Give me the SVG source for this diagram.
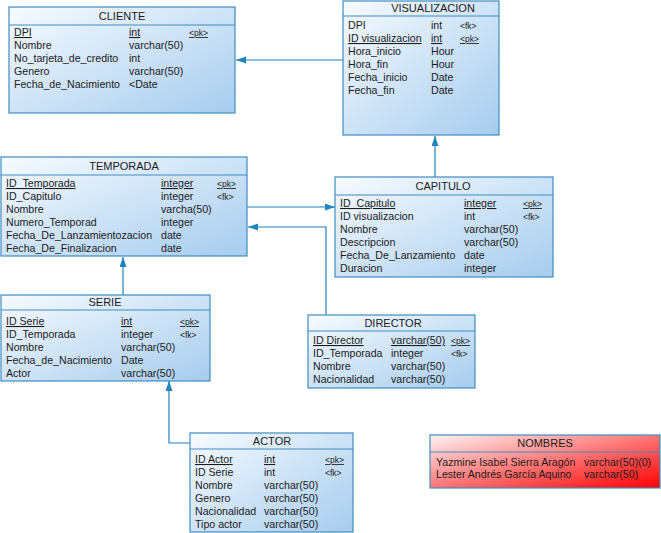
<svg xmlns="http://www.w3.org/2000/svg" width="661" height="533" viewBox="0 0 661 533">
  <style>
    .tbl { stroke: #3f8cc2; stroke-width: 1.2; fill: url(#blueFill); }
    .red { stroke: #3f8cc2; stroke-width: 1.2; fill: url(#redFill); }
    .sep { stroke: #3f8cc2; stroke-width: 1; }
    text { font-family: "Liberation Sans", Arial, sans-serif; font-size: 10.6px; fill: #1a1a1a; }
    .title { text-anchor: middle; font-size: 11px; }
    .key { font-size: 8.5px; }
    .u { text-decoration: underline; }
    .conn { stroke: #2184bd; stroke-width: 1.2; fill: none; marker-end: url(#arrow); }
  </style>
  <defs>
    <linearGradient id="blueFill" x1="0" y1="0" x2="1" y2="1">
      <stop offset="0" stop-color="#f7fbff"/>
      <stop offset="1" stop-color="#a6ccee"/>
    </linearGradient>
    <linearGradient id="redFill" x1="0" y1="0" x2="1" y2="1">
      <stop offset="0" stop-color="#fff4f4"/>
      <stop offset="0.55" stop-color="#ff6a6a"/>
      <stop offset="1" stop-color="#ff0000"/>
    </linearGradient>
    <marker id="arrow" markerUnits="userSpaceOnUse" markerWidth="11" markerHeight="8" refX="10" refY="3.5" orient="auto">
      <path d="M0,0 L10,3.5 L0,7 z" fill="#2184bd"/>
    </marker>
  </defs>

  <!-- relationships -->
  <g id="connectors">
    <polyline class="conn" points="343,60 236,60"/>
    <polyline class="conn" points="435,177 435,136"/>
    <polyline class="conn" points="247,207 335,207"/>
    <polyline class="conn" points="326,315 326,227 248,227"/>
    <polyline class="conn" points="123,295 123,257"/>
    <polyline class="conn" points="190,443 169,443 169,381"/>
  </g>

  <g id="cliente">
    <rect class="tbl" x="9" y="7" width="226" height="106"/>
    <line class="sep" x1="9" y1="25" x2="235" y2="25"/>
    <text class="title" x="122" y="20">CLIENTE</text>
    <text class="u" x="14" y="36">DPI</text><text class="u" x="129" y="36">int</text><text class="key u" x="189" y="36">&lt;pk&gt;</text>
    <text x="14" y="49">Nombre</text><text x="129" y="49">varchar(50)</text>
    <text x="14" y="62">No_tarjeta_de_credito</text><text x="129" y="62">int</text>
    <text x="14" y="75">Genero</text><text x="129" y="75">varchar(50)</text>
    <text x="14" y="88">Fecha_de_Nacimiento</text><text x="129" y="88">&lt;Date</text>
  </g>

  <g id="visualizacion">
    <rect class="tbl" x="343" y="1" width="156" height="134"/>
    <line class="sep" x1="343" y1="16" x2="499" y2="16"/>
    <text class="title" x="433" y="12">VISUALIZACION</text>
    <text x="348" y="29">DPI</text><text x="431" y="29">int</text><text class="key" x="460" y="29">&lt;fk&gt;</text>
    <text class="u" x="348" y="42">ID visualizacion</text><text class="u" x="431" y="42">int</text><text class="key u" x="460" y="42">&lt;pk&gt;</text>
    <text x="348" y="55">Hora_inicio</text><text x="431" y="55">Hour</text>
    <text x="348" y="68">Hora_fin</text><text x="431" y="68">Hour</text>
    <text x="348" y="81">Fecha_inicio</text><text x="431" y="81">Date</text>
    <text x="348" y="94">Fecha_fin</text><text x="431" y="94">Date</text>
  </g>

  <g id="temporada">
    <rect class="tbl" x="1" y="157" width="246" height="99"/>
    <line class="sep" x1="1" y1="175" x2="247" y2="175"/>
    <text class="title" x="124" y="170">TEMPORADA</text>
    <text class="u" x="6" y="187">ID_Temporada</text><text class="u" x="161" y="187">integer</text><text class="key u" x="217" y="187">&lt;pk&gt;</text>
    <text x="6" y="200">ID_Capitulo</text><text x="161" y="200">integer</text><text class="key" x="217" y="200">&lt;fk&gt;</text>
    <text x="6" y="213">Nombre</text><text x="161" y="213">varcha(50)</text>
    <text x="6" y="226">Numero_Temporad</text><text x="161" y="226">integer</text>
    <text x="6" y="239">Fecha_De_Lanzamientozacion</text><text x="161" y="239">date</text>
    <text x="6" y="252">Fecha_De_Finalizacion</text><text x="161" y="252">date</text>
  </g>

  <g id="capitulo">
    <rect class="tbl" x="335" y="177" width="218" height="100"/>
    <line class="sep" x1="335" y1="195" x2="553" y2="195"/>
    <text class="title" x="443" y="190">CAPITULO</text>
    <text class="u" x="340" y="207">ID_Capitulo</text><text class="u" x="464" y="207">integer</text><text class="key u" x="523" y="207">&lt;pk&gt;</text>
    <text x="340" y="220">ID visualizacion</text><text x="464" y="220">int</text><text class="key" x="523" y="220">&lt;fk&gt;</text>
    <text x="340" y="233">Nombre</text><text x="464" y="233">varchar(50)</text>
    <text x="340" y="246">Descripcion</text><text x="464" y="246">varchar(50)</text>
    <text x="340" y="259">Fecha_De_Lanzamiento</text><text x="464" y="259">date</text>
    <text x="340" y="272">Duracion</text><text x="464" y="272">integer</text>
  </g>

  <g id="serie">
    <rect class="tbl" x="1" y="295" width="209" height="86"/>
    <line class="sep" x1="1" y1="310" x2="210" y2="310"/>
    <text class="title" x="105" y="306">SERIE</text>
    <text class="u" x="6" y="325">ID Serie</text><text class="u" x="121" y="325">int</text><text class="key u" x="180" y="325">&lt;pk&gt;</text>
    <text x="6" y="338">ID_Temporada</text><text x="121" y="338">integer</text><text class="key" x="180" y="338">&lt;fk&gt;</text>
    <text x="6" y="351">Nombre</text><text x="121" y="351">varchar(50)</text>
    <text x="6" y="364">Fecha_de_Nacimiento</text><text x="121" y="364">Date</text>
    <text x="6" y="377">Actor</text><text x="121" y="377">varchar(50)</text>
  </g>

  <g id="director">
    <rect class="tbl" x="308" y="315" width="167" height="73"/>
    <line class="sep" x1="308" y1="331" x2="475" y2="331"/>
    <text class="title" x="393" y="327">DIRECTOR</text>
    <text class="u" x="313" y="344">ID Director</text><text class="u" x="391" y="344">varchar(50)</text><text class="key u" x="451" y="344">&lt;pk&gt;</text>
    <text x="313" y="357">ID_Temporada</text><text x="391" y="357">integer</text><text class="key" x="451" y="357">&lt;fk&gt;</text>
    <text x="313" y="370">Nombre</text><text x="391" y="370">varchar(50)</text>
    <text x="313" y="383">Nacionalidad</text><text x="391" y="383">varchar(50)</text>
  </g>

  <g id="actor">
    <rect class="tbl" x="190" y="433" width="163" height="99"/>
    <line class="sep" x1="190" y1="449" x2="353" y2="449"/>
    <text class="title" x="272" y="445">ACTOR</text>
    <text class="u" x="195" y="463">ID Actor</text><text class="u" x="264" y="463">int</text><text class="key u" x="325" y="463">&lt;pk&gt;</text>
    <text x="195" y="476">ID Serie</text><text x="264" y="476">int</text><text class="key" x="325" y="476">&lt;fk&gt;</text>
    <text x="195" y="489">Nombre</text><text x="264" y="489">varchar(50)</text>
    <text x="195" y="502">Genero</text><text x="264" y="502">varchar(50)</text>
    <text x="195" y="515">Nacionalidad</text><text x="264" y="515">varchar(50)</text>
    <text x="195" y="528">Tipo actor</text><text x="264" y="528">varchar(50)</text>
  </g>

  <g id="nombres">
    <rect class="red" x="430" y="435" width="230" height="53"/>
    <line class="sep" x1="430" y1="452" x2="660" y2="452"/>
    <text class="title" x="545" y="447">NOMBRES</text>
    <text x="436" y="466">Yazmine Isabel Sierra Aragón</text><text x="584" y="466">varchar(50)(0)</text>
    <text x="436" y="478">Lester Andrés García Aquino</text><text x="584" y="478">varchar(50)</text>
  </g>
</svg>
